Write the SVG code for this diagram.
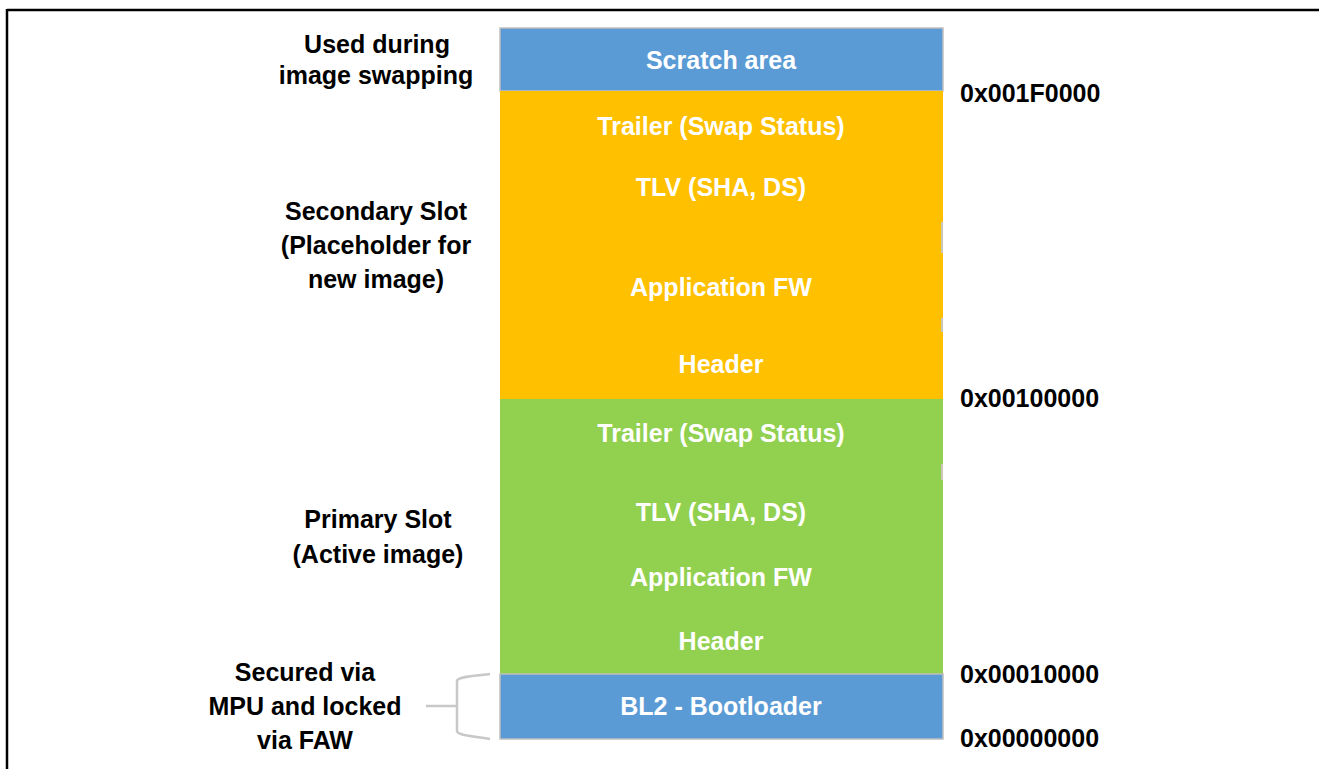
<svg xmlns="http://www.w3.org/2000/svg" width="1319" height="769" viewBox="0 0 1319 769">
<style>
text{font-family:"Liberation Sans",Arial,sans-serif;font-weight:bold;font-size:25px}
.w{fill:#ffffff;text-anchor:middle}
.k{fill:#000000;text-anchor:middle}
.a{fill:#000000;text-anchor:start}
.blue{fill:#5B9BD5;stroke:#BFBFBF;stroke-width:1.5}
.tick{stroke:#C8C8B4;stroke-width:2}
</style>
<rect width="1319" height="769" fill="#ffffff"/>
<g id="frame">
<line x1="7" y1="10" x2="1319" y2="10" stroke="#000" stroke-width="2.5"/>
<line x1="7" y1="9" x2="7" y2="769" stroke="#000" stroke-width="2.5"/>
</g>
<g id="scratch">
<rect class="blue" x="500" y="28" width="443" height="63"/>
<text class="w" x="721" y="69">Scratch area</text>
</g>
<g id="secondary-slot">
<rect x="500" y="91" width="443" height="308" fill="#FFC000"/>
<text class="w" x="721" y="135">Trailer (Swap Status)</text>
<text class="w" x="721" y="196">TLV (SHA, DS)</text>
<text class="w" x="721" y="296">Application FW</text>
<text class="w" x="721" y="373">Header</text>
<line class="tick" x1="942" y1="222" x2="942" y2="253"/>
<line class="tick" x1="942" y1="318" x2="942" y2="332"/>
</g>
<g id="primary-slot">
<rect x="500" y="399" width="443" height="275" fill="#92D050"/>
<text class="w" x="721" y="442">Trailer (Swap Status)</text>
<text class="w" x="721" y="521">TLV (SHA, DS)</text>
<text class="w" x="721" y="586">Application FW</text>
<text class="w" x="721" y="650">Header</text>
<line class="tick" x1="942" y1="464" x2="942" y2="480"/>
</g>
<g id="bootloader">
<rect class="blue" x="500" y="674" width="443" height="65"/>
<text class="w" x="721" y="715">BL2 - Bootloader</text>
</g>
<g id="labels">
<text class="k" x="377" y="53">Used during</text>
<text class="k" x="376" y="84">image swapping</text>
<text class="k" x="376" y="220">Secondary Slot</text>
<text class="k" x="376" y="254">(Placeholder for</text>
<text class="k" x="376" y="288">new image)</text>
<text class="k" x="378" y="528">Primary Slot</text>
<text class="k" x="378" y="563">(Active image)</text>
<text class="k" x="305" y="681">Secured via</text>
<text class="k" x="305" y="715">MPU and locked</text>
<text class="k" x="305" y="749">via FAW</text>
</g>
<g id="addresses">
<text class="a" x="960" y="102">0x001F0000</text>
<text class="a" x="960" y="407">0x00100000</text>
<text class="a" x="960" y="683">0x00010000</text>
<text class="a" x="960" y="747">0x00000000</text>
</g>
<g id="connectors">
<path d="M426 706 H457 M490 674 C470 676 457 677 457 681 V731 C457 735 470 736 490 739" fill="none" stroke="#C8C8C8" stroke-width="2.5"/>
</g>
</svg>
